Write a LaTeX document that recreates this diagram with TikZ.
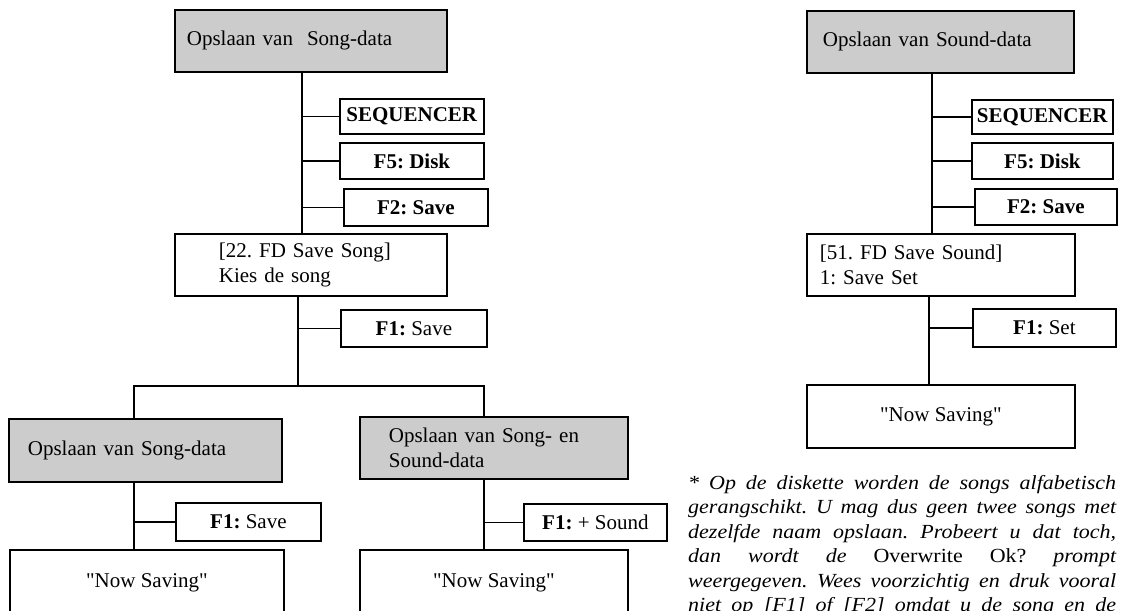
\documentclass[tikz,border=0pt]{standalone}
\usepackage{fontspec}
\setmainfont{Liberation Serif}
\newfontfamily\notefont[FakeStretch=1.1]{Liberation Serif}
% family without the TeX mapping, so that " stays a straight quote
\newfontfamily\quotefont{Liberation Serif}
\newcommand{\sq}{{\quotefont\char34}}
\begin{document}
\frenchspacing
\begin{tikzpicture}[x=1pt,y=-1pt,
  every node/.style={font=\fontsize{21}{25}\selectfont\frenchspacing},
  frame/.style={draw=black, line width=1.8pt, inner ysep=0pt, anchor=north west},
  shadebox/.style={frame, fill=black!20, align=left},
  screenbox/.style={frame, fill=white, align=left},
  keybox/.style={frame, fill=white, align=center, inner xsep=0pt},
  link/.style={line width=1.8pt},
  noteline/.style={anchor=base west, inner sep=0pt,
    font=\notefont\itshape\fontsize{20}{24}\selectfont}]
\useasboundingbox (0,0) rectangle (1121,610);
\clip (0,0) rectangle (1121,610);

% ---------- Song data (left tree) ----------
\node[shadebox, inner xsep=12pt, text width=248pt, minimum height=62pt] (t1) at (174,9) {Opslaan van\ \ Song-data};
\node[keybox, minimum width=144pt, minimum height=35pt] (seqL) at (339,98) {\textbf{SEQUENCER}};
\node[keybox, minimum width=144pt, minimum height=36pt] (f5L) at (339,142) {\textbf{F5: Disk}};
\node[keybox, minimum width=144pt, minimum height=37pt] (f2L) at (343,188) {\textbf{F2: Save}};
\node[screenbox, inner xsep=44pt, text width=184pt, minimum height=62pt] (fdL) at (174,233) {[22. FD Save Song]\\Kies de song};
\node[keybox, minimum width=146pt, minimum height=37pt] (f1m) at (340,309) {\textbf{F1:} Save};

\node[shadebox, inner xsep=19pt, text width=235pt, minimum height=63pt] (sL) at (8,418) {Opslaan van Song-data};
\node[shadebox, inner xsep=29pt, text width=210pt, minimum height=62pt] (sR) at (359,416) {Opslaan van Song- en\\Sound-data};
\node[keybox, minimum width=145pt, minimum height=38pt] (f1L) at (175,502) {\textbf{F1:} Save};
\node[keybox, minimum width=143pt, minimum height=37pt] (f1R) at (523,503) {\textbf{F1:} + Sound};
\node[keybox, minimum width=274pt, minimum height=66pt] (nsL) at (9,549) {\sq Now Saving\sq};
\node[keybox, minimum width=268pt, minimum height=66pt] (nsR) at (359,549) {\sq Now Saving\sq};

% trunk positions
\coordinate (aL) at (302,0);
\coordinate (bL) at (298,0);
\coordinate (split) at (298,386);
\coordinate (brL) at (134,0);
\coordinate (brR) at (484,0);

\draw[link] (t1.south -| aL) -- (fdL.north -| aL);
\draw[link] (seqL.west) -- (seqL.west -| aL);
\draw[link] (f5L.west) -- (f5L.west -| aL);
\draw[link] (f2L.west) -- (f2L.west -| aL);
\draw[link] (fdL.south -| bL) -- (split);
\draw[link] (f1m.west) -- (f1m.west -| bL);
\draw[link] (sL.north -| brL) |- (split) -| (sR.north -| brR);
\draw[link] (sL.south -| brL) -- (nsL.north -| brL);
\draw[link] (f1L.west) -- (f1L.west -| brL);
\draw[link] (sR.south -| brR) -- (nsR.north -| brR);
\draw[link] (f1R.west) -- (f1R.west -| brR);

% ---------- Sound data (right tree) ----------
\node[shadebox, inner xsep=16pt, text width=235pt, minimum height=62pt] (t2) at (806,10) {Opslaan van Sound-data};
\node[keybox, minimum width=141pt, minimum height=34pt] (seqR) at (971,99) {\textbf{SEQUENCER}};
\node[keybox, minimum width=141pt, minimum height=36pt] (f5R) at (971,142) {\textbf{F5: Disk}};
\node[keybox, minimum width=142pt, minimum height=36pt] (f2R) at (974,188) {\textbf{F2: Save}};
\node[screenbox, inner xsep=13pt, text width=242pt, minimum height=62pt] (fdR) at (806,233) {[51. FD Save Sound]\\1: Save Set};
\node[keybox, minimum width=143pt, minimum height=38pt] (f1S) at (972,308) {\textbf{F1:} Set};
\node[keybox, minimum width=268pt, minimum height=63pt] (nsS) at (806,384) {\sq Now Saving\sq};

\coordinate (aR) at (932,0);
\coordinate (bR) at (929,0);
\draw[link] (t2.south -| aR) -- (fdR.north -| aR);
\draw[link] (seqR.west) -- (seqR.west -| aR);
\draw[link] (f5R.west) -- (f5R.west -| aR);
\draw[link] (f2R.west) -- (f2R.west -| aR);
\draw[link] (fdR.south -| bR) -- (nsS.north -| bR);
\draw[link] (f1S.west) -- (f1S.west -| bR);

% ---------- footnote ----------
\node[noteline] (n1) at (688,489) {\makebox[428pt][s]{* Op de diskette worden de songs alfabetisch}};
\node[noteline] (n2) at (688,513.5) {\makebox[428pt][s]{gerangschikt. U mag dus geen twee songs met}};
\node[noteline] (n3) at (688,538) {\makebox[428pt][s]{dezelfde naam opslaan. Probeert u dat toch,}};
\node[noteline] (n4) at (688,562.5) {\makebox[428pt][s]{dan wordt de {\upshape Overwrite Ok?} prompt}};
\node[noteline] (n5) at (688,587) {\makebox[428pt][s]{weergegeven. Wees voorzichtig en druk vooral}};
\node[noteline] (n6) at (688,611.5) {\makebox[428pt][s]{niet op [F1] of [F2] omdat u de song en de}};
\end{tikzpicture}
\end{document}
